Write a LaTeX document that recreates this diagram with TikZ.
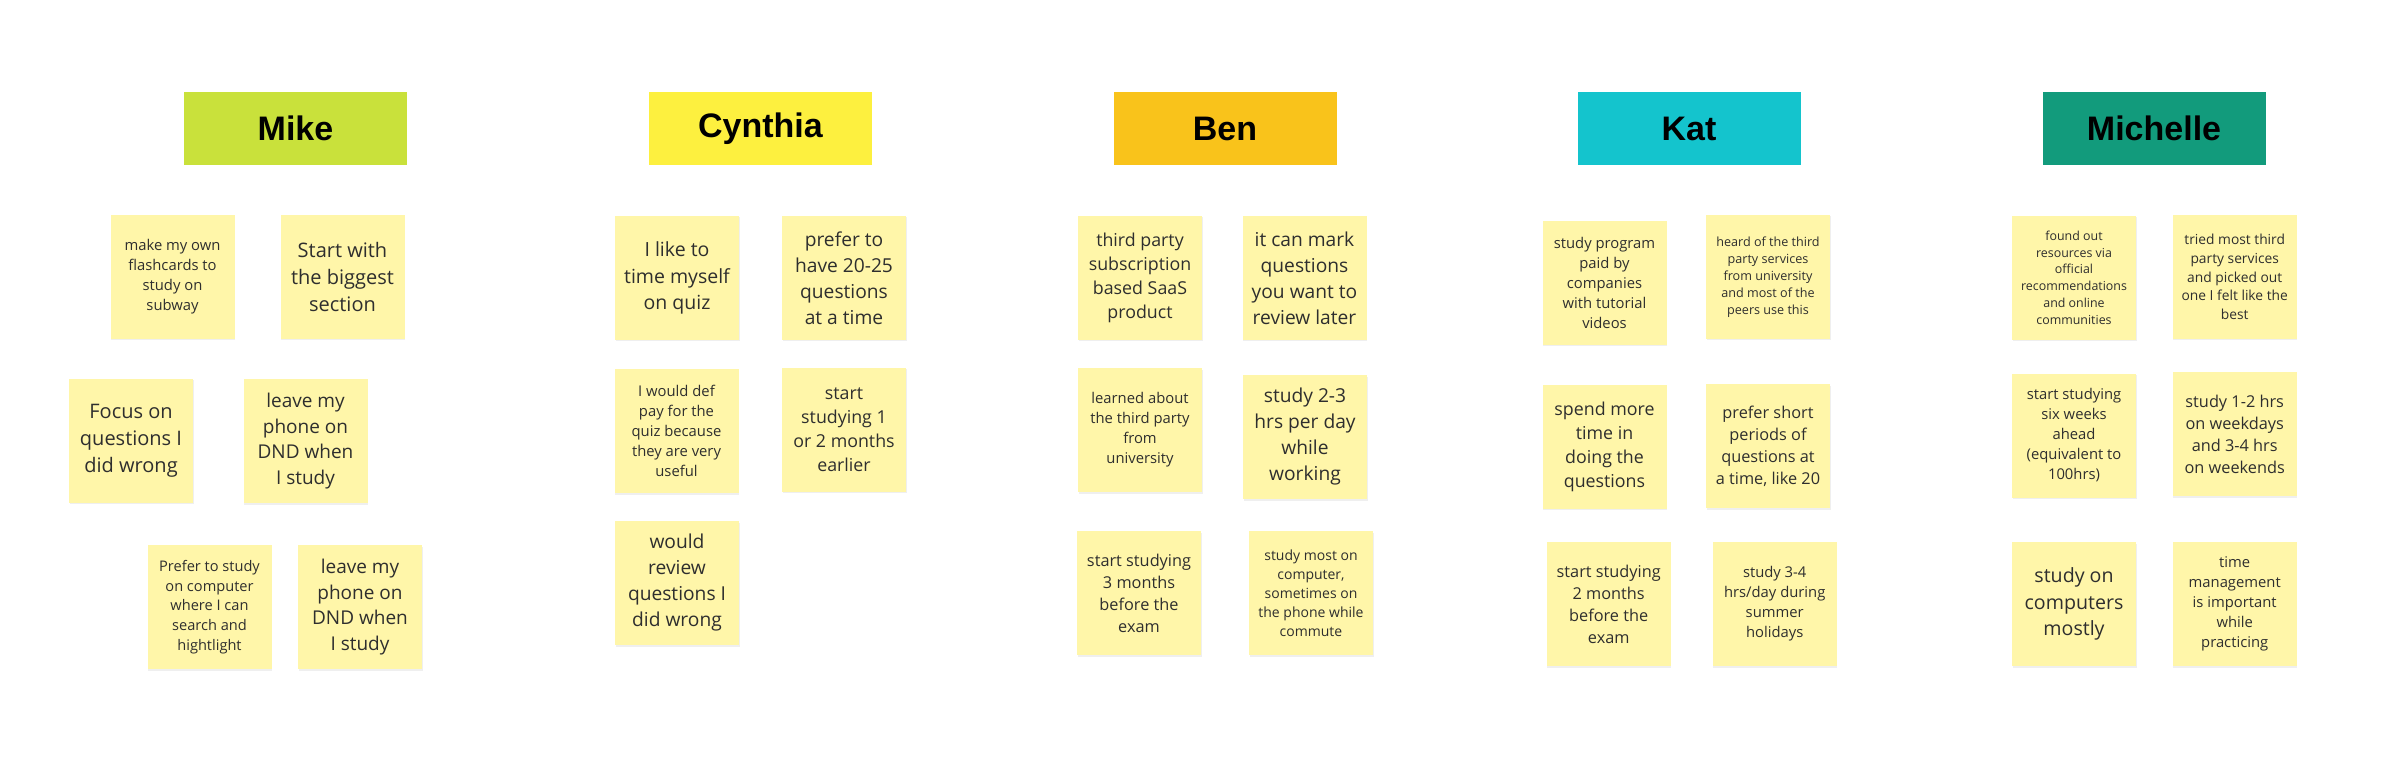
\documentclass[tikz,border=0pt]{standalone}
\usepackage{fontspec}
\setmainfont{Open Sans}
\newfontfamily\headfont{Liberation Sans}
\usetikzlibrary{shadows}

\definecolor{mikecol}{HTML}{C9E13B}
\definecolor{cyncol}{HTML}{FDF03F}
\definecolor{bencol}{HTML}{F9C31B}
\definecolor{katcol}{HTML}{14C4CD}
\definecolor{micol}{HTML}{129B7C}
\definecolor{stickyy}{HTML}{FFF6A9}
\definecolor{stickytxt}{HTML}{2E2E2E}

\newcommand{\fsz}[2]{\fontsize{#1}{#2}\selectfont}

\begin{document}
\begin{tikzpicture}[x=1pt, y=-1pt,
	head/.style={minimum width=223pt, minimum height=73pt, inner sep=0pt,
		font=\headfont\bfseries\fsz{34}{40}},
	sticky/.style={fill=stickyy, minimum width=124pt, minimum height=124pt,
		inner sep=0pt, align=center, text=stickytxt,
		drop shadow={shadow xshift=0.5pt, shadow yshift=-1.5pt, opacity=0.12}}]
	% Nền
	\fill[white] (0,0) rectangle (2402,759);
	\useasboundingbox (0,0) rectangle (2402,759);
	
	% Names
	\node[head, fill=mikecol] (hmike) at (295.5,128.5) {Mike};
	\node[head, fill=cyncol] (hcyn) at (760.5,128.5) {Cynthia};
	\node[head, fill=bencol] (hben) at (1225,128.5) {Ben};
	\node[head, fill=katcol] (hkat) at (1689,128.5) {Kat};
	\node[head, fill=micol] (hmic) at (2154,128.5) {Michelle};
	
	% Mike
	\node[sticky, font=\fsz{14.8}{20}] (mike1) at (172.5,277) {make my own\\flashcards to\\study on\\subway};
	\node[sticky, font=\fsz{20}{27}] (mike2) at (342.5,277) {Start with\\the biggest\\section};
	\node[sticky, font=\fsz{20}{27}] (mike3) at (131,440.6) {Focus on\\questions I\\did wrong};
	\node[sticky, font=\fsz{19}{25.7}] (mike4) at (305.5,441) {leave my\\phone on\\DND when\\I study};
	\node[sticky, font=\fsz{14.6}{19.7}] (mike5) at (209.5,607) {Prefer to study\\on computer\\where I can\\search and\\hightlight};
	\node[sticky, font=\fsz{19}{25.7}] (mike6) at (360,607) {leave my\\phone on\\DND when\\I study};
	
	% Cynthia
	\node[sticky, font=\fsz{19.5}{26.4}] (cyn1) at (677,278) {I like to\\time myself\\on quiz};
	\node[sticky, font=\fsz{19.2}{26}] (cyn2) at (844,278) {prefer to\\have 20-25\\questions\\at a time};
	\node[sticky, font=\fsz{14.8}{20}] (cyn3) at (676.5,431) {I would def\\pay for the\\quiz because\\they are very\\useful};
	\node[sticky, font=\fsz{17.8}{24}] (cyn4) at (844,429.5) {start\\studying 1\\or 2 months\\earlier};
	\node[sticky, font=\fsz{19.2}{26}] (cyn5) at (677,583) {would\\review\\questions I\\did wrong};
	
	% Ben
	\node[sticky, font=\fsz{17.8}{24}] (ben1) at (1140,278) {third party\\subscription\\based SaaS\\product};
	\node[sticky, font=\fsz{19.2}{26}] (ben2) at (1304.5,278) {it can mark\\questions\\you want to\\review later};
	\node[sticky, font=\fsz{14.8}{20}] (ben3) at (1140,430) {learned about\\the third party\\from\\university};
	\node[sticky, font=\fsz{19.2}{26}] (ben4) at (1305,437) {study 2-3\\hrs per day\\while\\working};
	\node[sticky, font=\fsz{16.3}{22}] (ben5) at (1139,593) {start studying\\3 months\\before the\\exam};
	\node[sticky, font=\fsz{14}{19}] (ben6) at (1311,593) {study most on\\computer,\\sometimes on\\the phone while\\commute};
	
	% Kat
	\node[sticky, font=\fsz{14.8}{20}] (kat1) at (1604.5,283) {study program\\paid by\\companies\\with tutorial\\videos};
	\node[sticky, font=\fsz{12.6}{17}] (kat2) at (1768,277) {heard of the third\\party services\\from university\\and most of the\\peers use this};
	\node[sticky, font=\fsz{17.8}{24}] (kat3) at (1604.5,446.5) {spend more\\time in\\doing the\\questions};
	\node[sticky, font=\fsz{16.3}{22}] (kat4) at (1768,446) {prefer short\\periods of\\questions at\\a time, like 20};
	\node[sticky, font=\fsz{16.3}{22}] (kat5) at (1608.7,604) {start studying\\2 months\\before the\\exam};
	\node[sticky, font=\fsz{14.8}{20}] (kat6) at (1774.7,604) {study 3-4\\hrs/day during\\summer\\holidays};
	
	% Michelle
	\node[sticky, font=\fsz{12.4}{16.8}] (mic1) at (2074,277.7) {found out\\resources via\\official\\recommendations\\and online\\communities};
	\node[sticky, font=\fsz{13.8}{18.7}] (mic2) at (2234.7,277) {tried most third\\party services\\and picked out\\one I felt like the\\best};
	\node[sticky, font=\fsz{14.8}{20}] (mic3) at (2074,435.5) {start studying\\six weeks\\ahead\\(equivalent to\\100hrs)};
	\node[sticky, font=\fsz{16.3}{22}] (mic4) at (2234.7,434) {study 1-2 hrs\\on weekdays\\and 3-4 hrs\\on weekends};
	\node[sticky, font=\fsz{19.6}{26.6}] (mic5) at (2074,604) {study on\\computers\\mostly};
	\node[sticky, font=\fsz{14.8}{20}] (mic6) at (2234.7,604) {time\\management\\is important\\while\\practicing};
\end{tikzpicture}
\end{document}
